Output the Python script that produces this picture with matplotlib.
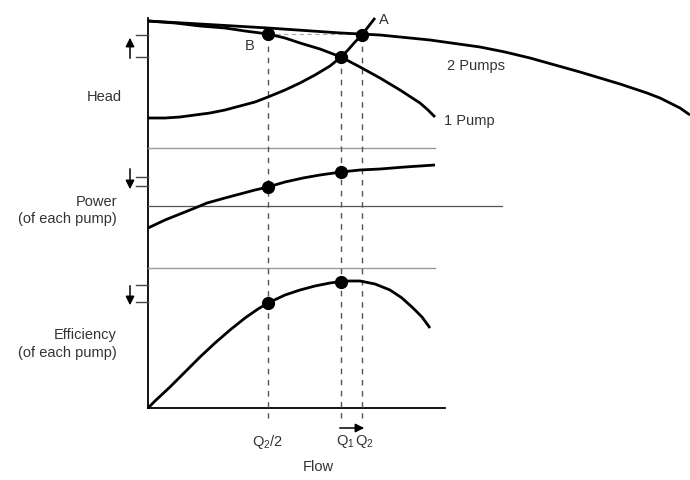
"""
Pumps in parallel: head, power and efficiency vs flow (schematic).
Coordinates are diagram units (x = flow, y = height downwards).
"""
import matplotlib
matplotlib.use('Agg')
import matplotlib.pyplot as plt

# ===================== DATI =====================
# curva 2 pompe
two_x = [148, 200, 268, 341, 380, 430, 480, 505, 530, 555, 580, 600, 620,
         635, 647, 660, 670, 680, 690]
two_y = [21, 24, 28, 33, 35, 40, 47, 52, 58, 65, 72, 78, 84,
         89, 93, 98, 103, 108, 115]
# curva 1 pompa
one_x = [148, 175, 200, 225, 245, 268, 285, 300, 320, 341, 360, 380, 400,
         420, 428, 435]
one_y = [21, 23, 26, 28, 31, 34, 38, 43, 49, 57, 67, 78, 90,
         103, 110, 117]
# curva di impianto
sys_x = [148, 165, 180, 195, 210, 225, 240, 255, 268, 285, 300, 315, 330,
         341, 348, 355, 362, 368, 375]
sys_y = [118, 118, 117, 115, 113, 110, 106, 102, 97, 90, 83, 75, 66,
         57, 50, 42, 35, 27, 18]
# potenza (di ogni pompa)
pow_x = [148, 165, 180, 195, 207, 225, 240, 255, 268, 285, 303, 320, 341,
         360, 380, 405, 435]
pow_y = [228, 220, 214, 208, 203, 198, 194, 190, 187, 182, 178, 175, 172,
         170, 169, 167, 165]
# rendimento (di ogni pompa)
eff_x = [148, 155, 170, 185, 200, 215, 230, 245, 258, 268, 285, 300, 315,
         330, 345, 360, 375, 390, 402, 413, 422, 430]
eff_y = [408, 401, 387, 372, 357, 343, 330, 318, 309, 303, 295, 290, 286,
         283, 281, 281, 284, 290, 298, 308, 317, 328]

# punti di lavoro
head_pts_x = [268, 341, 362]
head_pts_y = [34, 57, 35]
pow_pts_x = [268, 341]
pow_pts_y = [187, 172]
eff_pts_x = [268, 341]
eff_pts_y = [303, 282]

# portate: Q2/2, Q1, Q2
q_x = [268, 341, 362]
q_top = [35, 57, 35]
# livelli segnati sull'asse
head_lev = [35, 57]
pow_lev = [177, 186]
eff_lev = [285, 302]
# ==================================================================

LW = 2.0
TXT = '#333333'
plt.rcParams['font.family'] = ['Liberation Sans', 'DejaVu Sans']
plt.rcParams['mathtext.fontset'] = 'custom'
plt.rcParams['mathtext.rm'] = 'Liberation Sans'
plt.rcParams['mathtext.it'] = 'Liberation Sans'

fig = plt.figure(figsize=(6.9, 4.8), dpi=100)
ax = fig.add_axes([0, 0, 1, 1])
ax.set_xlim(0, 690)
ax.set_ylim(480, 0)
ax.axis('off')

# assi
ax.plot([148, 148], [18, 408], color='black', lw=1.3)
ax.plot([148, 445], [408, 408], color='black', lw=1.3)
# separatori dei pannelli
ax.plot([148, 435], [148, 148], color='#9a9a9a', lw=1.0)
ax.plot([148, 435], [268, 268], color='#9a9a9a', lw=1.0)
ax.plot([148, 502], [206, 206], color='#555555', lw=0.9)

# linee tratteggiate verticali
for x, yt in zip(q_x, q_top):
    ax.plot([x, x], [yt, 418], color='#555555', lw=1.0, ls=(0, (4, 4)))
ax.plot([268, 362], [34, 34], color='#aaaaaa', lw=0.8, ls=(0, (4, 3)))

# curve
for cx, cy in [(two_x, two_y), (one_x, one_y), (sys_x, sys_y),
               (pow_x, pow_y), (eff_x, eff_y)]:
    ax.plot(cx, cy, color='black', lw=LW, solid_capstyle='butt',
            solid_joinstyle='round')

# punti
for px, py in [(head_pts_x, head_pts_y), (pow_pts_x, pow_pts_y),
               (eff_pts_x, eff_pts_y)]:
    ax.plot(px, py, 'o', color='black', ms=8.5, ls='none')

# tacche sull'asse
for lev in head_lev + pow_lev + eff_lev:
    ax.plot([136, 148], [lev, lev], color='#444444', lw=1.0)

# frecce
arrow = dict(arrowstyle='-|>', color='black', lw=1.1, mutation_scale=13)
ax.annotate('', xy=(130, 35), xytext=(130, 61), arrowprops=arrow)
ax.annotate('', xy=(130, 192), xytext=(130, 166), arrowprops=arrow)
ax.annotate('', xy=(130, 308), xytext=(130, 283), arrowprops=arrow)
ax.annotate('', xy=(367, 428), xytext=(337, 428), arrowprops=arrow)

# testi
fs = 10.5
ax.text(122, 97, 'Head', ha='right', va='center', fontsize=fs, color=TXT)
ax.text(117, 202, 'Power', ha='right', va='center', fontsize=fs, color=TXT)
ax.text(117, 219, '(of each pump)', ha='right', va='center', fontsize=fs, color=TXT)
ax.text(117, 335, 'Efficiency', ha='right', va='center', fontsize=fs, color=TXT)
ax.text(117, 353, '(of each pump)', ha='right', va='center', fontsize=fs, color=TXT)
ax.text(447, 66, '2 Pumps', ha='left', va='center', fontsize=fs, color=TXT)
ax.text(444, 121, '1 Pump', ha='left', va='center', fontsize=fs, color=TXT)
ax.text(379, 20, 'A', ha='left', va='center', fontsize=fs, color=TXT)
ax.text(250, 46, 'B', ha='center', va='center', fontsize=fs, color=TXT)
ax.text(268, 442, r'Q$_2$/2', ha='center', va='center', fontsize=fs, color=TXT)
ax.text(345, 442, r'Q$_1$', ha='center', va='center', fontsize=fs, color=TXT)
ax.text(364, 442, r'Q$_2$', ha='center', va='center', fontsize=fs, color=TXT)
ax.text(318, 467, 'Flow', ha='center', va='center', fontsize=fs, color=TXT)

fig.savefig('out.png', dpi=100)
